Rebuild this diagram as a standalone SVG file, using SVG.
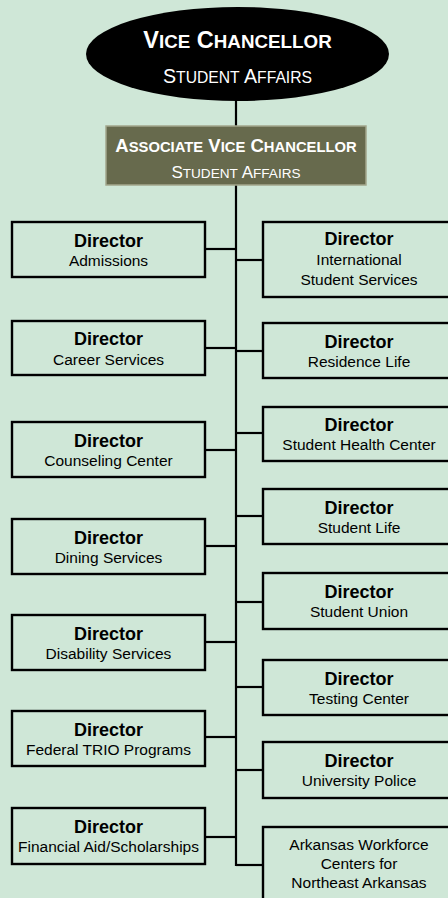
<svg xmlns="http://www.w3.org/2000/svg" width="448" height="898" viewBox="0 0 448 898">
<style>
.bg{fill:#CFE7D7}
.box{fill:#CFE7D7;stroke:#000;stroke-width:2.4}
.ln{stroke:#000;stroke-width:2.2;fill:none}
.t{font-family:"Liberation Sans",Arial,sans-serif;text-anchor:middle;fill:#000}
.h{font-weight:bold;font-size:18px}
.s{font-size:15.5px}
.w{font-family:"Liberation Sans",Arial,sans-serif;text-anchor:middle;fill:#fff}
</style>
<rect class="bg" x="0" y="0" width="448" height="898"/>
<g id="connectors">
<line class="ln" x1="236" y1="95" x2="236" y2="866"/>
<line class="ln" x1="205" y1="249" x2="236" y2="249"/>
<line class="ln" x1="205" y1="348" x2="236" y2="348"/>
<line class="ln" x1="205" y1="450" x2="236" y2="450"/>
<line class="ln" x1="205" y1="546" x2="236" y2="546"/>
<line class="ln" x1="205" y1="642" x2="236" y2="642"/>
<line class="ln" x1="205" y1="737" x2="236" y2="737"/>
<line class="ln" x1="205" y1="837" x2="236" y2="837"/>
<line class="ln" x1="236" y1="260" x2="263" y2="260"/>
<line class="ln" x1="236" y1="351" x2="263" y2="351"/>
<line class="ln" x1="236" y1="433" x2="263" y2="433"/>
<line class="ln" x1="236" y1="516" x2="263" y2="516"/>
<line class="ln" x1="236" y1="602" x2="263" y2="602"/>
<line class="ln" x1="236" y1="687" x2="263" y2="687"/>
<line class="ln" x1="236" y1="770" x2="263" y2="770"/>
<line class="ln" x1="236" y1="865" x2="263" y2="865"/>
</g>
<g id="vc">
<ellipse cx="237.5" cy="54" rx="151.5" ry="47" fill="#000"/>
<text class="w" x="237.5" y="48" font-weight="bold"><tspan font-size="23.5">V</tspan><tspan font-size="18.8">ICE</tspan><tspan font-size="23.5"> C</tspan><tspan font-size="18.8">HANCELLOR</tspan></text>
<text class="w" x="237.5" y="83"><tspan font-size="19.6">S</tspan><tspan font-size="15.7">TUDENT</tspan><tspan font-size="19.6"> A</tspan><tspan font-size="15.7">FFAIRS</tspan></text>
</g>
<g id="avc">
<rect x="106" y="126" width="260" height="59" fill="#676A4D" stroke="#A3A78C" stroke-width="1.5"/>
<text class="w" x="236" y="152" font-weight="bold"><tspan font-size="18.5">A</tspan><tspan font-size="14.8">SSOCIATE</tspan><tspan font-size="18.5"> V</tspan><tspan font-size="14.8">ICE</tspan><tspan font-size="18.5"> C</tspan><tspan font-size="14.8">HANCELLOR</tspan></text>
<text class="w" x="236" y="178"><tspan font-size="17">S</tspan><tspan font-size="13.6">TUDENT</tspan><tspan font-size="17"> A</tspan><tspan font-size="13.6">FFAIRS</tspan></text>
</g>
<g id="admissions"><rect class="box" x="12" y="222" width="193" height="55"/><text class="t h" x="108.5" y="247">Director</text><text class="t s" x="108.5" y="266">Admissions</text></g>
<g id="career"><rect class="box" x="12" y="321" width="193" height="54"/><text class="t h" x="108.5" y="345">Director</text><text class="t s" x="108.5" y="365">Career Services</text></g>
<g id="counseling"><rect class="box" x="12" y="422" width="193" height="55"/><text class="t h" x="108.5" y="447">Director</text><text class="t s" x="108.5" y="466">Counseling Center</text></g>
<g id="dining"><rect class="box" x="12" y="519" width="193" height="55"/><text class="t h" x="108.5" y="544">Director</text><text class="t s" x="108.5" y="563">Dining Services</text></g>
<g id="disability"><rect class="box" x="12" y="615" width="193" height="55"/><text class="t h" x="108.5" y="640">Director</text><text class="t s" x="108.5" y="659">Disability Services</text></g>
<g id="trio"><rect class="box" x="12" y="711" width="193" height="55"/><text class="t h" x="108.5" y="736">Director</text><text class="t s" x="108.5" y="755">Federal TRIO Programs</text></g>
<g id="finaid"><rect class="box" x="12" y="808" width="193" height="56"/><text class="t h" x="108.5" y="833">Director</text><text class="t s" x="108.5" y="852">Financial Aid/Scholarships</text></g>
<g id="international"><rect class="box" x="263" y="222" width="192" height="75"/><text class="t h" x="359" y="245">Director</text><text class="t s" x="359" y="265">International</text><text class="t s" x="359" y="285">Student Services</text></g>
<g id="residence"><rect class="box" x="263" y="323" width="192" height="55"/><text class="t h" x="359" y="348">Director</text><text class="t s" x="359" y="367">Residence Life</text></g>
<g id="health"><rect class="box" x="263" y="407" width="192" height="54"/><text class="t h" x="359" y="431">Director</text><text class="t s" x="359" y="450">Student Health Center</text></g>
<g id="studentlife"><rect class="box" x="263" y="489" width="192" height="55"/><text class="t h" x="359" y="514">Director</text><text class="t s" x="359" y="533">Student Life</text></g>
<g id="union"><rect class="box" x="263" y="573" width="192" height="56"/><text class="t h" x="359" y="598">Director</text><text class="t s" x="359" y="617">Student Union</text></g>
<g id="testing"><rect class="box" x="263" y="660" width="192" height="55"/><text class="t h" x="359" y="685">Director</text><text class="t s" x="359" y="704">Testing Center</text></g>
<g id="police"><rect class="box" x="263" y="742" width="192" height="56"/><text class="t h" x="359" y="767">Director</text><text class="t s" x="359" y="786">University Police</text></g>
<g id="workforce"><rect class="box" x="263" y="827" width="192" height="80"/><text class="t s" x="359" y="850">Arkansas Workforce</text><text class="t s" x="359" y="869">Centers for</text><text class="t s" x="359" y="888">Northeast Arkansas</text></g>
</svg>
